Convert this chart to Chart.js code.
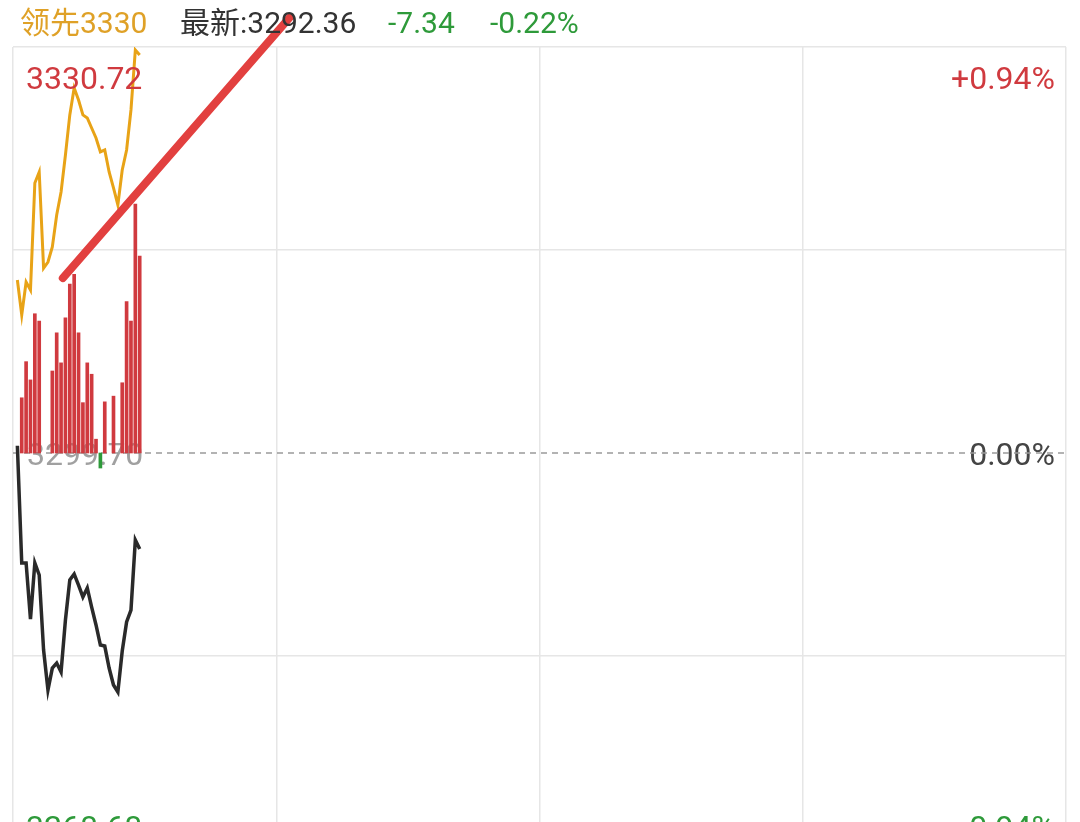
<!DOCTYPE html>
<html><head><meta charset="utf-8">
<script src="https://cdn.jsdelivr.net/npm/chart.js@4.4.1/dist/chart.umd.min.js"></script>
<style>
html,body{margin:0;padding:0;background:#fff;width:1080px;height:822px;overflow:hidden;}
#wrap{position:relative;width:1080px;height:880px;}
#c{position:absolute;left:0;top:0;}
.hd{position:absolute;top:8px;font-family:Roboto,"Noto Sans CJK SC",sans-serif;font-size:30px;line-height:30px;white-space:nowrap;}
</style></head><body>
<div id="wrap">
<canvas id="c" width="1080" height="880"></canvas>
<div class="hd" id="hLead" style="left:20px;color:#DFA127"></div>
<div class="hd" id="hLatest" style="left:180px;color:#333333"></div>
<div class="hd" id="hChg" style="left:388px;color:#2E9A3A"></div>
<div class="hd" id="hPct" style="left:490px;color:#2E9A3A"></div>
</div>
<script>
// ---- data ----
const prevClose = 3299.70;
const yTicks = [3268.68, 3284.19, 3299.70, 3315.21, 3330.72];
const xTicks = [0, 60.25, 120.5, 180.75, 241];
const priceLine = [3300.25, 3291.30, 3291.30, 3287.00, 3291.30, 3290.38, 3284.65, 3281.59, 3283.27, 3283.65,
  3282.97, 3286.94, 3290.00, 3290.45, 3289.61, 3288.70, 3289.39, 3287.93, 3286.56, 3285.03,
  3284.95, 3283.27, 3281.97, 3281.44, 3284.57, 3286.79, 3287.70, 3293.05, 3292.36];
const leadLine = [3312.92, 3310.24, 3312.77, 3312.15, 3320.33, 3321.17, 3313.83, 3314.29, 3315.44, 3317.88,
  3319.64, 3322.47, 3325.53, 3327.59, 3326.67, 3325.53, 3325.30, 3324.53, 3323.77, 3322.70,
  3322.85, 3321.17, 3319.95, 3318.65, 3321.32, 3322.85, 3325.91, 3330.49, 3330.11];
const strengthBars = [null, 13.6, 22.5, 18.0, 34.3, 32.5, null, null, 20.2, 29.6, 22.2, 33.3, 41.6, 44.0, 29.6,
  12.4, 22.2, 19.4, 3.4, -3.7, 12.6, null, 14.0, null, 17.3, 37.3, 32.5, 61.3, 48.5];
const trendX = [11.4, 63.4];
const trendY = [3313.07, 3333.0];

// ---- header ----
const latest = priceLine[priceLine.length - 1];
const chg = latest - prevClose;
const chgPct = chg / prevClose * 100;
document.getElementById('hLead').textContent = '领先' + Math.round(leadLine[leadLine.length - 1]);
document.getElementById('hLatest').textContent = '最新:' + latest.toFixed(2);
document.getElementById('hChg').textContent = (chg >= 0 ? '+' : '') + chg.toFixed(2);
document.getElementById('hPct').textContent = (chgPct >= 0 ? '+' : '') + chgPct.toFixed(2) + '%';

const RED = '#D03A3F', GREEN = '#2E9A3A';
const pctOf = v => { const p = (v / prevClose - 1) * 100; return (p > 0.0001 ? '+' : '') + p.toFixed(2) + '%'; };

const labelPlugin = {
  id: 'lbl',
  beforeDatasetsDraw(chart) {
    const { ctx, chartArea: a, scales: { y } } = chart;
    const y0 = y.getPixelForValue(prevClose);
    ctx.save();
    ctx.font = '32px Roboto';
    ctx.textBaseline = 'alphabetic';
    ctx.fillStyle = '#A0A0A0';
    ctx.textAlign = 'left';
    ctx.fillText(prevClose.toFixed(2), a.left + 14, y0 + 12);
    ctx.fillStyle = '#444444';
    ctx.textAlign = 'right';
    ctx.fillText(pctOf(prevClose).replace('+', ''), a.right - 11, y0 + 12);
    ctx.restore();
  },
  afterDatasetsDraw(chart) {
    const { ctx, chartArea: a } = chart;
    const top = yTicks[yTicks.length - 1], bot = yTicks[0];
    ctx.save();
    ctx.font = '32px Roboto';
    ctx.textBaseline = 'alphabetic';
    ctx.fillStyle = RED;
    ctx.textAlign = 'left';
    ctx.fillText(top.toFixed(2), a.left + 13, a.top + 42);
    ctx.textAlign = 'right';
    ctx.fillText(pctOf(top), a.right - 11, a.top + 42);
    ctx.fillStyle = GREEN;
    ctx.textAlign = 'left';
    ctx.fillText(bot.toFixed(2), a.left + 13, a.bottom - 21);
    ctx.textAlign = 'right';
    ctx.fillText(pctOf(bot), a.right - 11, a.bottom - 21);
    ctx.restore();
  }
};

new Chart(document.getElementById('c').getContext('2d'), {
  type: 'line',
  data: {
    datasets: [
      { type: 'line', label: '趋势线', data: trendX.map((x, j) => ({ x, y: trendY[j] })),
        borderColor: '#E2403F', borderWidth: 8, borderCapStyle: 'round', pointRadius: 0, clip: false, order: 0 },
      { type: 'line', label: '最新', data: priceLine.map((v, i) => ({ x: i + 1, y: v })),
        borderColor: '#2A2A2A', borderWidth: 3.5, pointRadius: 0, tension: 0, order: 1 },
      { type: 'line', label: '领先', data: leadLine.map((v, i) => ({ x: i + 1, y: v })),
        borderColor: '#E8A317', borderWidth: 3, pointRadius: 0, tension: 0, order: 2 },
      { type: 'bar', label: '强弱', yAxisID: 'yb', data: strengthBars.map((v, i) => ({ x: i + 1, y: v })),
        backgroundColor: c => (c.raw && c.raw.y < 0) ? GREEN : RED, barThickness: 3, order: 3 },
      { type: 'line', label: '昨收', data: [{ x: xTicks[0], y: prevClose }, { x: xTicks[xTicks.length - 1], y: prevClose }],
        borderColor: '#9A9A9A', borderWidth: 1.5, borderDash: [6, 5], pointRadius: 0, order: 4 }
    ]
  },
  options: {
    responsive: false,
    animation: false,
    layout: { padding: { left: 13, right: 14, top: 47, bottom: 21 } },
    plugins: { legend: { display: false }, tooltip: { enabled: false } },
    scales: {
      x: {
        type: 'linear', min: xTicks[0], max: xTicks[xTicks.length - 1], offset: false,
        afterBuildTicks: s => { s.ticks = xTicks.map(v => ({ value: v })); },
        ticks: { display: false },
        grid: { offset: false, color: '#E6E6E6', lineWidth: 1.5, drawTicks: false },
        border: { display: false }
      },
      y: {
        min: yTicks[0], max: yTicks[yTicks.length - 1],
        afterBuildTicks: s => { s.ticks = yTicks.map(v => ({ value: v })); },
        ticks: { display: false },
        grid: { color: c => (c.tick && Math.abs(c.tick.value - prevClose) < 0.001) ? 'rgba(0,0,0,0)' : '#E6E6E6', lineWidth: 1.5, drawTicks: false },
        border: { display: false }
      },
      yb: { min: -100, max: 100, display: false }
    }
  },
  plugins: [labelPlugin]
});
</script>
</body></html>
